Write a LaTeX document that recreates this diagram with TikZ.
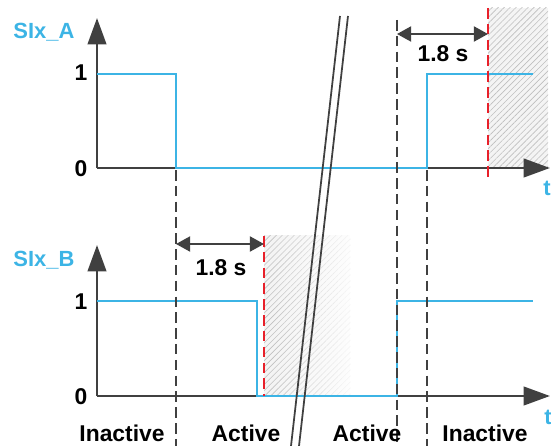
\documentclass[tikz,border=0pt]{standalone}
\usepackage{fontspec}
\setmainfont{Liberation Sans}
\usetikzlibrary{arrows.meta,patterns.meta}
\definecolor{sigblue}{HTML}{3CB4E5}
\definecolor{axisgray}{HTML}{404040}
\definecolor{limitred}{HTML}{E8202A}
\tikzset{
  axis/.style={line width=1.6pt, axisgray, -{Triangle[length=15pt,width=10.5pt]}},
  signal/.style={line width=1.7pt, sigblue},
  marker/.style={line width=1pt, axisgray, dash pattern=on 6pt off 3pt},
  limit/.style={line width=1.3pt, limitred, dash pattern=on 6pt off 3pt},
  timer/.style={line width=1.2pt, axisgray, {Triangle[length=8pt,width=8.5pt]}-{Triangle[length=8pt,width=8.5pt]}},
  breakline/.style={line width=1pt, axisgray},
  hatchbg/.style={fill=gray!9},
  hatch/.style={pattern={Lines[angle=45,distance=2.4pt,line width=0.35pt]}, pattern color=gray!50},
  siglabel/.style={font=\bfseries\fontsize{12.5}{14}\selectfont, text=sigblue},
  level/.style={font=\bfseries\fontsize{13}{15}\selectfont},
  state/.style={font=\bfseries\fontsize{13}{15}\selectfont},
  timelabel/.style={font=\bfseries\fontsize{13}{15}\selectfont},
}

\begin{document}
\begin{tikzpicture}[x=0.02cm, y=-0.02cm]
  \useasboundingbox (0,0) rectangle (551,446);

  % blocked zones after the 1.8 s delay
  \fill[hatchbg] (488,8) rectangle (548,168);
  \fill[hatch] (488,8) rectangle (548,168);
  \fill[hatchbg] (264,235) rectangle (350,396);
  \fill[hatch] (264,235) rectangle (350,396);
  \foreach \k in {0,...,20}
    \fill[white, opacity=\k*0.042] (266+\k*4,234) rectangle +(4.2,163);

  % axes
  \coordinate (Aorig) at (97,168);
  \coordinate (Aytip) at (97,18);
  \coordinate (Axtip) at (550,168);
  \coordinate (Borig) at (97,396);
  \coordinate (Bytip) at (97,245);
  \coordinate (Bxtip) at (550,396);
  \draw[axis] (Aorig) -- (Aytip);
  \draw[axis] (Aorig) -- (Axtip);
  \draw[axis] (Borig) -- (Bytip);
  \draw[axis] (Borig) -- (Bxtip);

  % signals
  \draw[signal] (97,74) -- (176,74) -- (176,168) -- (427,168) -- (427,74) -- (533,74);
  \draw[signal] (97,301) -- (257,301) -- (257,396) -- (397,396) -- (397,301) -- (533,301);

  % state boundaries
  \draw[marker] (176,170) -- (176,446);
  \draw[marker] (397,20) -- (397,446);
  \draw[marker] (427,170) -- (427,446);
  \draw[limit] (488,8) -- (488,178);
  \draw[limit] (264,236) -- (264,396);

  % time break
  \draw[breakline] (340,16) -- (291,446);
  \draw[breakline] (348,16) -- (299,446);

  % delays
  \coordinate (tA1) at (397,34);
  \coordinate (tA2) at (488,34);
  \coordinate (tB1) at (176,244);
  \coordinate (tB2) at (264,244);
  \draw[timer] (tA1) -- (tA2);
  \draw[timer] (tB1) -- (tB2);
  \node[timelabel] (delayA) at (443,54) {1.8 s};
  \node[timelabel] (delayB) at (221,268) {1.8 s};

  % labels
  \node[siglabel] (nameA) at (44,32) {SIx\_A};
  \node[siglabel] (nameB) at (44,260) {SIx\_B};
  \node[level] (oneA) at (81,73) {1};
  \node[level] (zeroA) at (81,169) {0};
  \node[level] (oneB) at (81,302) {1};
  \node[level] (zeroB) at (81,397) {0};
  \node[siglabel] (tA) at (547,188) {t};
  \node[siglabel] (tB) at (548,417) {t};

  \node[state] (st1) at (122,433) {Inactive};
  \node[state] (st2) at (246,433) {Active};
  \node[state] (st3) at (367,433) {Active};
  \node[state] (st4) at (485,433) {Inactive};
\end{tikzpicture}
\end{document}
